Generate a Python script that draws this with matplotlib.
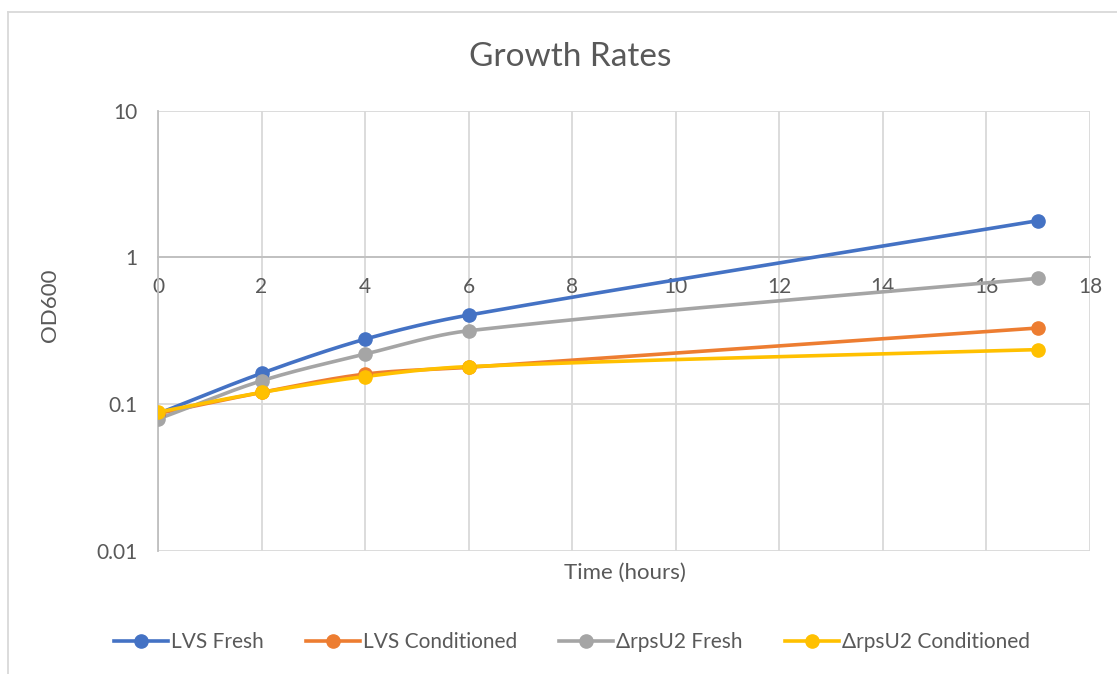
import numpy as np
import matplotlib
matplotlib.use("Agg")
import matplotlib.pyplot as plt
from matplotlib.lines import Line2D
from matplotlib.ticker import FixedLocator, FixedFormatter

# data
hours = [0, 2, 4, 6, 17]
lvs_fresh = [0.086, 0.162, 0.277, 0.404, 1.78]
lvs_cond = [0.086, 0.120, 0.160, 0.178, 0.330]
rpsu2_fresh = [0.079, 0.144, 0.219, 0.316, 0.720]
rpsu2_cond = [0.088, 0.120, 0.154, 0.180, 0.235]

series_names = ["LVS Fresh", "LVS Conditioned", "\u0394rpsU2 Fresh", "\u0394rpsU2 Conditioned"]
series_colors = ["#4472C4", "#ED7D31", "#A5A5A5", "#FFC000"]
x_ticks = [0, 2, 4, 6, 8, 10, 12, 14, 16, 18]
y_ticks = [0.01, 0.1, 1, 10]
y_tick_labels = ["0.01", "0.1", "1", "10"]

plt.rcParams['font.family'] = ['Lato', 'DejaVu Sans']
text_color = "#595959"
grid_color = "#D9D9D9"


def smooth(xs, ys, n=60):
    # smoothed line like Excel's: cubic Hermite through the points in (x, log y)
    px = np.array(xs, dtype=float)
    py = np.log10(np.array(ys, dtype=float))
    m = len(px)
    slopes = np.zeros(m)
    for i in range(m):
        a, b = max(i - 1, 0), min(i + 1, m - 1)
        slopes[i] = (py[b] - py[a]) / (px[b] - px[a])
    out_x, out_y = [], []
    for i in range(m - 1):
        h = px[i + 1] - px[i]
        t = np.linspace(0, 1, n)
        h00 = 2 * t ** 3 - 3 * t ** 2 + 1
        h10 = t ** 3 - 2 * t ** 2 + t
        h01 = -2 * t ** 3 + 3 * t ** 2
        h11 = t ** 3 - t ** 2
        yy = h00 * py[i] + h10 * h * slopes[i] + h01 * py[i + 1] + h11 * h * slopes[i + 1]
        out_x.extend(px[i] + t * h)
        out_y.extend(yy)
    return np.array(out_x), 10 ** np.array(out_y)


W, H = 1117, 674
fig = plt.figure(figsize=(W / 100, H / 100), dpi=100)
ax = fig.add_axes([158 / W, 1 - 550.7 / H, (1090 - 158) / W, (550.7 - 110.7) / H])

ax.set_yscale("log")
ax.set_xlim(0, 18)
ax.set_ylim(0.01, 10)

all_series = [lvs_fresh, lvs_cond, rpsu2_fresh, rpsu2_cond]
handles = []
for vals, name, col in zip(all_series, series_names, series_colors):
    sx, sy = smooth(hours, vals)
    ax.plot(sx, sy, color=col, lw=2.6, solid_capstyle="round", zorder=3)
    ax.plot(hours, vals, linestyle="none", marker="o", ms=9.5, color=col, zorder=4)
    handles.append(Line2D([], [], color=col, lw=2.6, marker="o", ms=9.5, label=name))

# gridlines
ax.yaxis.set_major_locator(FixedLocator(y_ticks))
ax.yaxis.set_major_formatter(FixedFormatter(y_tick_labels))
ax.yaxis.set_minor_locator(FixedLocator([]))
ax.xaxis.set_major_locator(FixedLocator(x_ticks))
ax.grid(True, color=grid_color, lw=1.3, zorder=0)
ax.set_axisbelow(True)

for side in ["top", "right"]:
    ax.spines[side].set_visible(False)
ax.spines["left"].set_color("#BFBFBF")
ax.spines["left"].set_linewidth(1.3)
ax.spines["bottom"].set_position(("data", 1))
ax.spines["bottom"].set_color("#BFBFBF")
ax.spines["bottom"].set_linewidth(1.3)

ax.tick_params(axis="both", length=0, labelsize=15, labelcolor=text_color)
ax.tick_params(axis="x", pad=14)
ax.tick_params(axis="y", pad=15)

fig.text(570 / W, 1 - 57 / H, "Growth Rates", ha="center", va="center",
         fontsize=24, color=text_color)
fig.text(625 / W, 1 - 573 / H, "Time (hours)", ha="center", va="center",
         fontsize=16, color=text_color)
fig.text(50 / W, 1 - 305 / H, "OD600", ha="center", va="center", rotation=90,
         fontsize=16, color=text_color)

fig.legend(handles=handles, loc="center", bbox_to_anchor=(572 / W, 1 - 642 / H),
           ncol=4, frameon=False, fontsize=15, labelcolor=text_color,
           handlelength=2.6, handletextpad=0.15, columnspacing=2.0)

# chart area border
fig.add_artist(Line2D([8 / W, 8 / W], [1 - 12 / H, 0], transform=fig.transFigure,
                      color=grid_color, lw=1.3))
fig.add_artist(Line2D([8 / W, 1], [1 - 12 / H, 1 - 12 / H], transform=fig.transFigure,
                      color=grid_color, lw=1.3))

fig.savefig("out.png", dpi=100, facecolor="white")
